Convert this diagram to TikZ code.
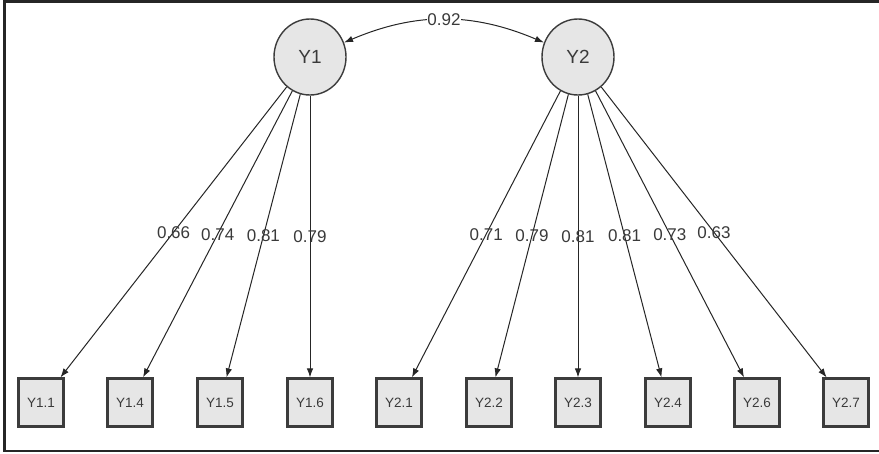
\documentclass[tikz,border=0pt]{standalone}
\usepackage{fontspec}
\setmainfont{Liberation Sans}
\usetikzlibrary{shapes.geometric,arrows.meta}
\definecolor{nodefill}{HTML}{E6E6E6}
\definecolor{nodeline}{HTML}{3C3C3C}
\definecolor{edgeline}{HTML}{262626}
\definecolor{txt}{HTML}{3A3A3A}
\begin{document}
\begin{tikzpicture}[x=1pt,y=-1pt,
  latent/.style={ellipse,draw=nodeline,line width=1.4pt,fill=nodefill,minimum width=72pt,minimum height=76pt,inner sep=0pt,text=txt,font=\fontsize{19}{21}\selectfont},
  observed/.style={rectangle,draw=nodeline,line width=2.2pt,fill=nodefill,minimum width=45pt,minimum height=48pt,inner sep=0pt,text=txt,font=\fontsize{13.5}{15}\selectfont},
  loading/.style={draw=edgeline,line width=1pt,-{Latex[length=9pt,width=6.5pt]}},
  covar/.style={draw=edgeline,line width=1pt,{Latex[length=9pt,width=6.5pt]}-{Latex[length=9pt,width=6.5pt]}},
  lab/.style={text=txt,font=\fontsize{17}{19}\selectfont,inner sep=1pt}]
\useasboundingbox (0,0) rectangle (879,453);
\fill[white] (0,0) rectangle (879,453);
\draw[line width=2.6pt,black!85] (879,1.3) -- (4.5,1.3) -- (4.5,451) -- (879,451);
\node[latent] (Y1) at (310,57) {Y1};
\node[latent] (Y2) at (578,57) {Y2};
\node[observed] (a1) at (41,402.5) {Y1.1};
\node[observed] (a4) at (130,402.5) {Y1.4};
\node[observed] (a5) at (220,402.5) {Y1.5};
\node[observed] (a6) at (310,402.5) {Y1.6};
\node[observed] (b1) at (399,402.5) {Y2.1};
\node[observed] (b2) at (489,402.5) {Y2.2};
\node[observed] (b3) at (578,402.5) {Y2.3};
\node[observed] (b4) at (668,402.5) {Y2.4};
\node[observed] (b6) at (757,402.5) {Y2.6};
\node[observed] (b7) at (846,402.5) {Y2.7};
\draw[covar] (Y1) to[bend left=23] node[lab,fill=white,inner sep=0.5pt] {0.92} (Y2);
\draw[loading] (Y1) -- node[lab] {0.66} (a1);
\draw[loading] (Y1) -- node[lab] {0.74} (a4);
\draw[loading] (Y1) -- node[lab] {0.81} (a5);
\draw[loading] (Y1) -- node[lab] {0.79} (a6);
\draw[loading] (Y2) -- node[lab] {0.71} (b1);
\draw[loading] (Y2) -- node[lab] {0.79} (b2);
\draw[loading] (Y2) -- node[lab] {0.81} (b3);
\draw[loading] (Y2) -- node[lab] {0.81} (b4);
\draw[loading] (Y2) -- node[lab] {0.73} (b6);
\draw[loading] (Y2) -- node[lab] {0.63} (b7);
\end{tikzpicture}
\end{document}
